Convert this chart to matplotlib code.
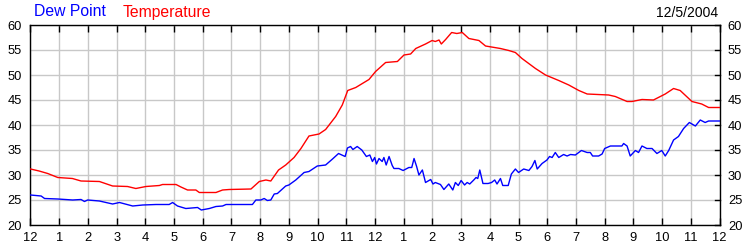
import matplotlib
matplotlib.use("Agg")
import matplotlib.pyplot as plt

plt.rcParams['font.family'] = ['Liberation Sans', 'DejaVu Sans']

# ---- data ----
temp_hours = [0, 0.3, 0.6, 0.95, 1.46, 1.76, 2.4, 2.86, 3.38, 3.67, 4.02, 4.49, 4.6, 5.07, 5.24, 5.47,
              5.76, 5.88, 6.46, 6.69, 6.92, 7.68, 7.97, 8.2, 8.37, 8.64, 8.89, 9.18, 9.42, 9.7, 10.05,
              10.28, 10.63, 10.86, 11.05, 11.33, 11.56, 11.79, 12.02, 12.37, 12.78, 13.01, 13.24, 13.42,
              13.76, 13.99, 14.1, 14.23, 14.31, 14.46, 14.67, 14.85, 15.04, 15.27, 15.62, 15.85, 16.37,
              16.66, 16.89, 17.12, 17.59, 17.94, 18.4, 18.75, 19.1, 19.39, 20.14, 20.37, 20.78, 20.95,
              21.3, 21.7, 22.11, 22.4, 22.63, 23.04, 23.38, 23.62, 24.0]
temp_values = [31.2, 30.8, 30.3, 29.5, 29.3, 28.8, 28.7, 27.8, 27.7, 27.3, 27.7, 27.9, 28.1, 28.1, 27.6, 27.0,
               27.0, 26.5, 26.5, 27.0, 27.1, 27.2, 28.7, 29.0, 28.8, 31.0, 32.0, 33.5, 35.3, 37.8, 38.2,
               39.1, 41.7, 44.0, 46.9, 47.5, 48.3, 49.1, 50.7, 52.5, 52.7, 54.0, 54.2, 55.3,
               56.2, 56.9, 56.7, 57.0, 56.2, 57.1, 58.5, 58.3, 58.5, 57.3, 56.9, 55.8, 55.3,
               54.9, 54.5, 53.3, 51.3, 50.0, 48.9, 48.0, 46.9, 46.2, 46.0, 45.7, 44.7, 44.7,
               45.1, 45.0, 46.2, 47.3, 46.9, 44.7, 44.2, 43.5, 43.5]

dew_hours = [0, 0.37, 0.49, 0.95, 1.47, 1.76, 1.88, 1.99, 2.4, 2.86, 3.1, 3.56, 3.91, 4.37, 4.83, 4.95,
             5.12, 5.41, 5.82, 5.95, 6.23, 6.46, 6.69, 6.81, 7.73, 7.85, 8.02, 8.14, 8.25, 8.37, 8.49,
             8.6, 8.89, 9.0, 9.24, 9.53, 9.7, 9.99, 10.28, 10.52, 10.73, 10.96, 11.04, 11.15, 11.23,
             11.38, 11.54, 11.7, 11.82, 11.91, 11.99, 12.05, 12.14, 12.25, 12.31, 12.39, 12.49, 12.6,
             12.66, 12.83, 12.98, 13.18, 13.28, 13.36, 13.45, 13.53, 13.65, 13.76, 13.94, 14.02, 14.1,
             14.28, 14.4, 14.57, 14.71, 14.8, 14.9, 15.0, 15.12, 15.21, 15.3, 15.44, 15.52, 15.58,
             15.65, 15.76, 15.94, 16.06, 16.17, 16.25, 16.37, 16.45, 16.64, 16.75, 16.89, 17.0, 17.18,
             17.36, 17.47, 17.57, 17.65, 17.82, 17.99, 18.08, 18.17, 18.28, 18.4, 18.57, 18.69, 18.81,
             18.98, 19.19, 19.39, 19.5, 19.58, 19.79, 19.91, 20.0, 20.2, 20.6, 20.66, 20.78, 20.89,
             21.07, 21.18, 21.3, 21.47, 21.65, 21.82, 21.99, 22.11, 22.23, 22.4, 22.57, 22.75, 22.95,
             23.16, 23.33, 23.5, 23.62, 24.0]
dew_values = [26.0, 25.8, 25.3, 25.2, 25.0, 25.1, 24.7, 25.0, 24.8, 24.2, 24.5, 23.8, 24.0, 24.1, 24.1, 24.5,
              23.8, 23.3, 23.5, 23.0, 23.3, 23.7, 23.8, 24.1, 24.1, 25.0, 25.0, 25.3, 24.9, 25.0, 26.2,
              26.3, 27.8, 28.0, 29.0, 30.5, 30.7, 31.8, 32.0, 33.2, 34.3, 33.7, 35.4, 35.7, 35.1,
              35.7, 35.0, 33.7, 34.0, 32.7, 33.5, 32.2, 33.3, 32.7, 33.5, 32.0, 33.7, 31.9,
              31.3, 31.3, 30.9, 31.5, 31.5, 33.3, 31.7, 30.0, 31.0, 28.5, 29.1, 28.2, 28.5,
              28.1, 27.1, 28.2, 27.0, 28.5, 27.9, 28.9, 28.0, 28.5, 28.2, 29.0, 29.5, 29.3,
              31.0, 28.3, 28.3, 28.5, 29.0, 28.2, 29.3, 27.9, 27.9, 30.2, 31.2, 30.5, 31.2,
              30.9, 31.7, 32.9, 31.2, 32.3, 33.0, 33.7, 33.5, 34.5, 33.5, 34.1, 33.8, 34.1,
              34.0, 34.9, 34.5, 34.5, 33.8, 33.8, 34.2, 35.3, 35.8, 35.8, 36.3, 35.8, 33.8,
              34.9, 34.5, 35.8, 35.3, 35.3, 34.3, 34.9, 33.8, 34.9, 37.0, 37.7, 39.3, 40.5,
              39.8, 41.0, 40.5, 40.8, 40.8]

x_tick_labels = ['12', '1', '2', '3', '4', '5', '6', '7', '8', '9', '10', '11',
                 '12', '1', '2', '3', '4', '5', '6', '7', '8', '9', '10', '11', '12']
y_ticks = [20, 25, 30, 35, 40, 45, 50, 55, 60]
date_label = '12/5/2004'

# ---- figure ----
fig = plt.figure(figsize=(7.5, 2.5), dpi=100)
ax = fig.add_axes([30.5 / 750, 1 - 225 / 250, 689 / 750, 200 / 250])

ax.plot(dew_hours, dew_values, color='#0000FF', lw=1.0, zorder=3)
ax.plot(temp_hours, temp_values, color='#FF0000', lw=1.0, zorder=3)

ax.set_xlim(0, 24)
ax.set_ylim(20, 60)
ax.set_xticks(range(25))
ax.set_xticklabels(x_tick_labels)
ax.set_yticks(y_ticks)
ax.set_yticklabels([str(v) for v in y_ticks])

ax.grid(True, color='#C8C8C8', lw=1.0, zorder=0)
ax.set_axisbelow(True)
for s in ax.spines.values():
    s.set_color('black')
    s.set_linewidth(1.0)

ax.tick_params(axis='x', which='both', direction='in', length=5, width=1,
               top=True, bottom=True, labelsize=9.3, pad=5, colors='black')
ax.tick_params(axis='y', which='both', direction='in', length=0, width=1,
               left=True, right=False, labelleft=True, labelright=True,
               labelsize=9.3, pad=6, colors='black')
# right inward ticks
for v in y_ticks:
    ax.plot([23.83, 24], [v, v], color='black', lw=1.0, clip_on=False, zorder=4)

fig.text(34 / 750, 1 - 12 / 250, 'Dew Point', color='#0000FF', fontsize=11.3, va='center', ha='left')
fig.text(123 / 750, 1 - 12 / 250, 'Temperature', color='#FF0000', fontsize=11.3, va='center', ha='left')
fig.text(718 / 750, 1 - 13 / 250, date_label, color='black', fontsize=10, va='center', ha='right')

fig.savefig('out.png', dpi=100)
